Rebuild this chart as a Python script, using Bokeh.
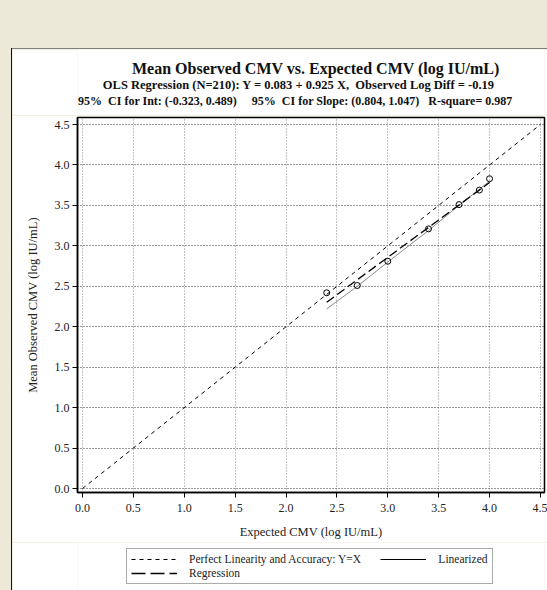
from bokeh.plotting import figure
from bokeh.layouts import column, row
from bokeh.models import Spacer, Label, Legend, LegendItem, Range1d, FixedTicker, PrintfTickFormatter
from bokeh.embed import file_html
from bokeh.resources import INLINE

# ---- data ----
pts_x = [2.4, 2.7, 3.0, 3.4, 3.7, 3.9, 4.0]
pts_y = [2.42, 2.51, 2.81, 3.21, 3.51, 3.69, 3.83]
lin_y = [2.22, 2.50, 2.80, 3.19, 3.50, 3.70, 3.80]
perf_x = [0.0, 4.5]
perf_y = [0.0, 4.5]
reg_x = [2.4, 4.0]
reg_y = [2.303, 3.783]
ticks = [0.0, 0.5, 1.0, 1.5, 2.0, 2.5, 3.0, 3.5, 4.0, 4.5]

NB = "\u00a0"
title1 = "Mean Observed CMV vs. Expected CMV (log IU/mL)"
title2 = "OLS Regression (N=210): Y = 0.083 + 0.925 X," + NB * 2 + "Observed Log Diff = -0.19"
title3 = ("95%" + NB * 2 + "CI for Int: (-0.323, 0.489)" + NB * 5 + "95%" + NB * 2 +
          "CI for Slope: (0.804, 1.047)" + NB * 3 + "R-square= 0.987")
leg_labels = ["Perfect Linearity and Accuracy: Y=X", "Regression", "Linearized"]

FONT = "Liberation Serif"
BG = "#ECE9D8"
NAN = float("nan")

xr = Range1d(-0.049, 4.54)

# ---- title strip ----
t = figure(width=535, height=66, x_range=xr, y_range=Range1d(0, 66),
           output_backend="svg", toolbar_location=None,
           min_border_left=65, min_border_right=3, min_border_top=0, min_border_bottom=0)
t.axis.visible = False
t.grid.visible = False
t.outline_line_color = None
t.border_fill_color = "white"
t.background_fill_color = "white"
for txt, cx, by, size in [(title1, 2.294, 47, "16px"),
                          (title2, 2.127, 31, "12.5px"),
                          (title3, 2.092, 15, "12px")]:
    t.add_layout(Label(x=cx, y=by, text=txt, text_align="center",
                       text_baseline="alphabetic", text_font=FONT,
                       text_font_size=size, text_font_style="bold",
                       text_color="#111111"))

# ---- main plot ----
p = figure(width=535, height=427,
           x_range=xr, y_range=Range1d(-0.049, 4.587),
           output_backend="svg", toolbar_location=None,
           min_border_left=65, min_border_right=3,
           min_border_top=2, min_border_bottom=50,
           x_axis_label="Expected CMV (log IU/mL)",
           y_axis_label="Mean Observed CMV (log IU/mL)")
p.border_fill_color = "white"
p.background_fill_color = "white"
p.outline_line_color = "black"
p.outline_line_width = 1.5

for ax in (p.xaxis[0], p.yaxis[0]):
    ax.ticker = FixedTicker(ticks=ticks)
    ax.formatter = PrintfTickFormatter(format="%.1f")
    ax.minor_tick_line_color = None
    ax.major_tick_out = 5
    ax.major_tick_in = 0
    ax.major_tick_line_color = "black"
    ax.axis_line_color = "black"
    ax.axis_line_width = 1.5
    ax.major_label_text_font = FONT
    ax.major_label_text_font_size = "12px"
    ax.major_label_text_color = "#222222"
    ax.axis_label_text_font = FONT
    ax.axis_label_text_font_size = "12.5px"
    ax.axis_label_text_font_style = "normal"
    ax.axis_label_text_color = "#222222"
p.xaxis[0].major_label_standoff = 6
p.yaxis[0].major_label_standoff = 3
p.xaxis[0].axis_label_standoff = 10
p.yaxis[0].axis_label_standoff = 12

p.xgrid.grid_line_color = "#888888"
p.xgrid.grid_line_dash = "1 2"
p.ygrid.grid_line_color = "#333333"
p.ygrid.grid_line_dash = "1 2"

p.line(perf_x, perf_y, line_color="black", line_width=1, line_dash="4 4")
p.line(pts_x, lin_y, line_color="#8a8a8a", line_width=1)
p.line(reg_x, reg_y, line_color="black", line_width=1.3, line_dash="9 4")
p.scatter(pts_x, pts_y, marker="circle", size=6, fill_color=None,
          line_color="black", line_width=1)

# ---- legend strip ----
q = figure(width=535, height=48, x_range=Range1d(0, 1), y_range=Range1d(0, 1),
           output_backend="svg", toolbar_location=None,
           min_border_left=65, min_border_right=3, min_border_top=0, min_border_bottom=0)
q.axis.visible = False
q.grid.visible = False
q.outline_line_color = None
q.border_fill_color = "white"
q.background_fill_color = "white"
k_perf = q.line([NAN], [NAN], line_color="black", line_width=1, line_dash="4 4")
k_reg = q.line([NAN], [NAN], line_color="black", line_width=1.3, line_dash="14 5")
k_lin = q.line([NAN], [NAN], line_color="black", line_width=1)
pad = NB * 6
legend = Legend(items=[
    LegendItem(label=leg_labels[0] + pad, renderers=[k_perf]),
    LegendItem(label=leg_labels[1], renderers=[k_reg]),
    LegendItem(label=leg_labels[2], renderers=[k_lin]),
], ncols=2, location=(49, 6))
legend.label_text_font = FONT
legend.label_text_font_size = "11.5px"
legend.label_text_color = "#222222"
legend.glyph_width = 46
legend.glyph_height = 12
legend.label_height = 12
legend.label_standoff = 12
legend.spacing = 2
legend.padding = 4
legend.margin = 0
legend.border_line_color = "#555555"
legend.border_line_width = 1.5
legend.background_fill_color = "white"
q.add_layout(legend)

top = Spacer(width=547, height=48, styles={"background-color": BG})
left = Spacer(width=11, height=542, styles={"background-color": BG})
lborder = Spacer(width=1, height=542, styles={"background-color": "#111111"})
tborder = Spacer(width=535, height=1, styles={"background-color": "#808080"})
inner = column(tborder, t, p, q, spacing=0)
mid = row(left, lborder, inner, spacing=0)
layout = column(top, mid, spacing=0, styles={"background-color": BG})

open("out.html", "w").write(file_html(layout, INLINE))
